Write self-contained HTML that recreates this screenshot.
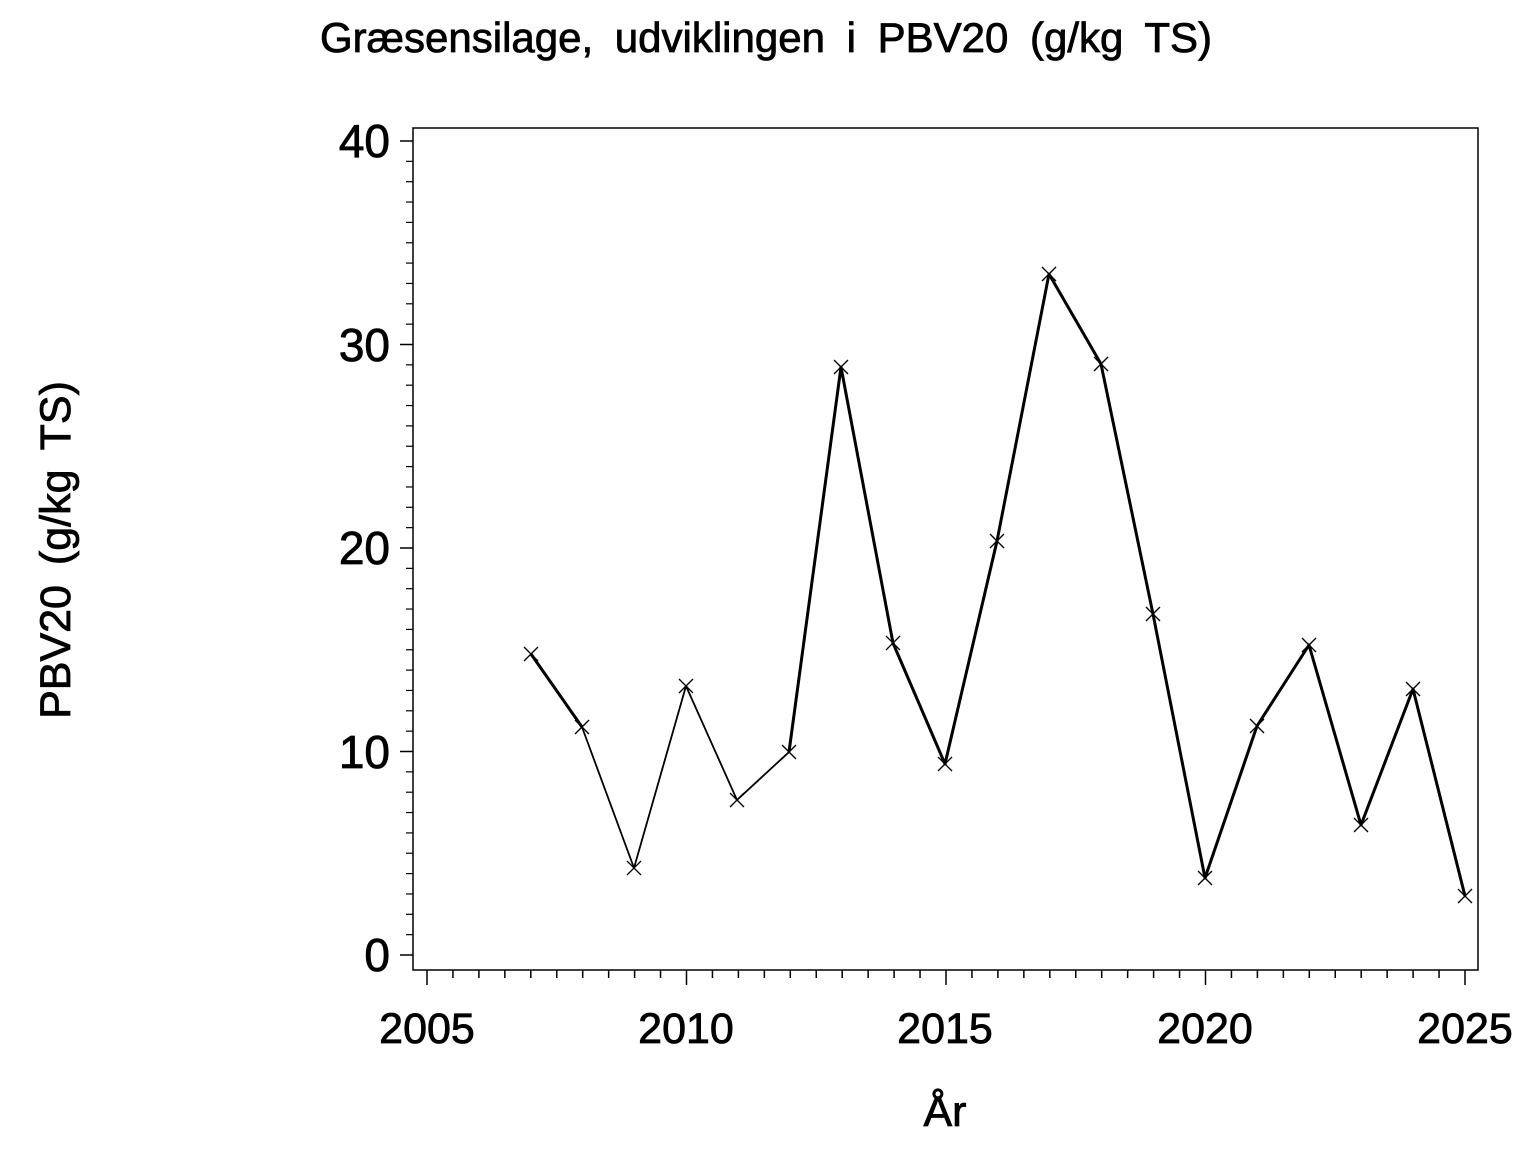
<!DOCTYPE html>
<html><head><style>body{margin:0;background:#fff}</style></head><body>
<svg width="1536" height="1152" xmlns="http://www.w3.org/2000/svg" font-family="Liberation Sans, sans-serif">
<rect width="1536" height="1152" fill="#fff"/>
<g stroke="#000" stroke-width="0.8">
<text x="766" y="52" font-size="42" text-anchor="middle" word-spacing="10">Græsensilage, udviklingen i PBV20 (g/kg TS)</text>
<text transform="translate(70,550) rotate(-90)" font-size="43" text-anchor="middle" word-spacing="8">PBV20 (g/kg TS)</text>
<text x="945" y="1126" font-size="43" text-anchor="middle">År</text>
<g font-size="46" text-anchor="end">
<text x="390" y="971">0</text><text x="390" y="768">10</text><text x="390" y="564">20</text><text x="390" y="361">30</text><text x="390" y="157">40</text>
</g>
<g font-size="43" text-anchor="middle">
<text x="427" y="1043">2005</text><text x="686" y="1043">2010</text><text x="945" y="1043">2015</text><text x="1205" y="1043">2020</text><text x="1465" y="1043">2025</text>
</g>
</g>
<rect x="413" y="128" width="1065" height="842" fill="none" stroke="#000" stroke-width="1.5"/>
<g stroke="#000" stroke-width="1.5">
<path d="M400 955H413M400 751.5H413M400 548H413M400 344.5H413M400 141H413"/>
</g>
<g id="yt" stroke="#000" stroke-width="1.2"></g>
<g id="xt" stroke="#000" stroke-width="1.5"></g>
<g fill="none" stroke="#000" stroke-linejoin="round">
<polyline stroke-width="3" points="531,654 582,727"/>
<polyline stroke-width="1.8" points="582,727 634,868 686,686 737,800 789,752"/>
<polyline stroke-width="3" points="789,752 841,367 893,643 945,764 997,541 1049,274 1101,364 1153,614 1205,878 1257,726 1309,645 1361,825 1413,689 1465,896"/>
</g>
<g id="mk" stroke="#000" stroke-width="1.3"></g>
<script>
var ns="http://www.w3.org/2000/svg";
function ln(g,x1,y1,x2,y2){var l=document.createElementNS(ns,"line");l.setAttribute("x1",x1);l.setAttribute("y1",y1);l.setAttribute("x2",x2);l.setAttribute("y2",y2);document.getElementById(g).appendChild(l);}
for(var i=0;i<=40;i++){if(i%10)ln("yt",406,955-i*20.35,413,955-i*20.35);}
for(var i=0;i<=40;i++){var x=427+i*25.95;ln("xt",x,970,x,i%10?978:985);}
var p=[[531,654],[582,727],[634,868],[686,686],[737,800],[789,752],[841,367],[893,643],[945,764],[997,541],[1049,274],[1101,364],[1153,614],[1205,878],[1257,726],[1309,645],[1361,825],[1413,689],[1465,896]];
p.forEach(function(q){ln("mk",q[0]-7,q[1]-7,q[0]+7,q[1]+7);ln("mk",q[0]-7,q[1]+7,q[0]+7,q[1]-7);});
</script>
</svg>
</body></html>
